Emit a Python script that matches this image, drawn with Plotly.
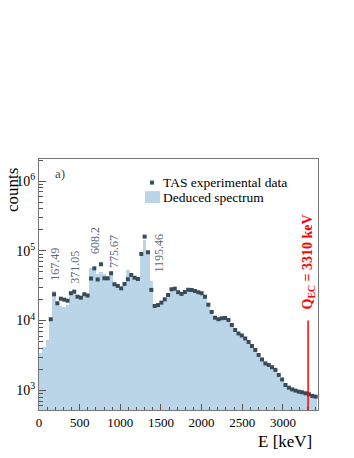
import numpy as np
import plotly.graph_objects as go

# bin width of the TAS spectrum (keV)
BIN_WIDTH = 41.25
Q_EC = 3310
Q_LINE_TOP = 1e4
Y_RANGE = [2.717, 6.318]  # log10

# deduced spectrum, bins 0..82
deduced = [3400, 4150, 5300, 9800, 27000, 17000, 16000, 15500, 16500, 24000,
           25500, 22000, 21000, 23500, 22500, 57000, 57000, 47000, 50000, 47000,
           44000, 48000, 33000, 31000, 29500, 36000, 54000, 46000, 43000, 41000,
           88000, 145000, 95000, 37000, 16500, 17000, 18300, 20500, 23500, 28000,
           28500, 25500, 24300, 25700, 27500, 27300, 26400, 25300, 24500, 22000,
           17000, 13500, 11100, 10500, 10800, 10900, 10200, 8700, 7400, 6550,
           6100, 5550, 4950, 4350, 3800, 3250, 2800, 2450, 2300, 2150,
           1970, 1680, 1440, 1200, 1100, 1040, 995, 960, 940, 910,
           880, 835, 815]

# TAS experimental data, bins 3..82
first_exp_bin = 3
experimental = [10450, 23800, 17700, 20600, 19950, 19300, 24700, 26000, 22000, 21300,
                23900, 22900, 40100, 56200, 38900, 64300, 40400, 40400, 47800, 33200,
                31400, 29000, 33500, 39200, 45100, 41200, 39500, 90300, 160000, 95500,
                27500, 16200, 16700, 18100, 20200, 23300, 28100, 28700, 25500, 24100,
                25700, 27700, 27500, 26600, 25500, 24700, 22000, 16900, 13300, 11000,
                10450, 10800, 10900, 10200, 8650, 7330, 6530, 6110, 5530, 4930,
                4320, 3790, 3210, 2770, 2430, 2310, 2140, 1960, 1660, 1430,
                1190, 1090, 1030, 990, 955, 935, 905, 877, 830, 810]

peak_labels = ['167.49', '371.05', '608.2', '775.67', '1195.46']

e_ded = (np.arange(len(deduced)) + 0.5) * BIN_WIDTH
e_exp = (np.arange(len(experimental)) + first_exp_bin + 0.5) * BIN_WIDTH

serif = 'Liberation Serif'
fill_col = '#bad4e8'
mark_col = '#3a4b58'

fig = go.Figure()
fig.add_trace(go.Bar(x=e_ded, y=deduced, width=BIN_WIDTH, name='Deduced spectrum',
                     marker=dict(color=fill_col, line=dict(width=0)), showlegend=False))
fig.add_trace(go.Scatter(x=e_exp, y=experimental, mode='markers', name='TAS experimental data',
                         marker=dict(symbol='square', size=4, color=mark_col), showlegend=False))

# Q_EC line
fig.add_trace(go.Scatter(x=[Q_EC, Q_EC], y=[10 ** Y_RANGE[0], Q_LINE_TOP], mode='lines',
                         line=dict(color='red', width=1.5), showlegend=False, hoverinfo='skip'))
fig.add_annotation(text='<b>Q<sub>EC</sub> = 3310 keV</b>', textangle=-90, xref='paper', yref='paper',
                   x=0.966, y=0.59, xanchor='center', yanchor='middle', showarrow=False,
                   font=dict(family=serif, size=14, color='red'))

# peak labels
label_pos = [(0.057, 0.582), (0.130, 0.568), (0.199, 0.675), (0.267, 0.631), (0.430, 0.627)]
for txt, (px, py) in zip(peak_labels, label_pos):
    fig.add_annotation(text=txt, textangle=-90, xref='paper', yref='paper', x=px, y=py,
                       xanchor='center', yanchor='middle', showarrow=False,
                       font=dict(family=serif, size=12, color='#5a6b78'))

# legend box (drawn by hand to get the tight ROOT-like spacing)
fig.add_shape(type='rect', xref='paper', yref='paper', x0=0.398, x1=0.412, y0=0.898, y1=0.914,
              line=dict(width=0), fillcolor=mark_col)
fig.add_shape(type='rect', xref='paper', yref='paper', x0=0.380, x1=0.434, y0=0.824, y1=0.872,
              line=dict(width=0), fillcolor=fill_col)
fig.add_annotation(text='TAS experimental data', xref='paper', yref='paper', x=0.437, y=0.906,
                   xanchor='left', yanchor='middle', showarrow=False,
                   font=dict(family=serif, size=13.5, color='black'))
fig.add_annotation(text='Deduced spectrum', xref='paper', yref='paper', x=0.437, y=0.848,
                   xanchor='left', yanchor='middle', showarrow=False,
                   font=dict(family=serif, size=13.5, color='black'))

fig.add_annotation(text='a)', xref='paper', yref='paper', x=0.075, y=0.944, xanchor='center',
                   yanchor='middle', showarrow=False, font=dict(family=serif, size=13, color=mark_col))
fig.add_annotation(text='counts', textangle=-90, xref='paper', yref='paper', x=-0.097, y=0.876,
                   xanchor='center', yanchor='middle', showarrow=False,
                   font=dict(family=serif, size=17, color='black'))
fig.add_annotation(text='E [keV]', xref='paper', yref='paper', x=0.985, y=-0.124, xanchor='right',
                   yanchor='middle', showarrow=False, font=dict(family=serif, size=17, color='black'))

y_major = [1e3, 1e4, 1e5, 1e6]
y_minor = [m * 10 ** d for d in range(2, 7) for m in range(2, 10)]

fig.update_layout(
    width=354, height=458,
    margin=dict(l=39, r=36, t=159, b=48),
    paper_bgcolor='white', plot_bgcolor='white',
    bargap=0, showlegend=False,
    font=dict(family=serif, size=13, color='black'),
    xaxis=dict(range=[0, 3432], showgrid=False, zeroline=False, showline=True, mirror=True,
               linecolor='#777', linewidth=1, ticks='inside', ticklen=6, tickcolor='#555',
               tickvals=[0, 500, 1000, 1500, 2000, 2500, 3000],
               minor=dict(ticks='inside', ticklen=3, tickcolor='#555', dtick=100, tick0=0),
               tickfont=dict(family=serif, size=13)),
    yaxis=dict(type='log', range=Y_RANGE, showgrid=False, zeroline=False, showline=True,
               mirror=True, linecolor='#777', linewidth=1, ticks='inside', ticklen=7,
               tickcolor='#555', tickvals=y_major,
               ticktext=['10<sup>3</sup>', '10<sup>4</sup>', '10<sup>5</sup>', '10<sup>6</sup>'],
               minor=dict(ticks='inside', ticklen=4, tickcolor='#555', tickvals=y_minor),
               tickfont=dict(family=serif, size=14)),
)

fig.write_html('out.html', config={'displayModeBar': False},
               post_script="document.body.style.margin='0';")
